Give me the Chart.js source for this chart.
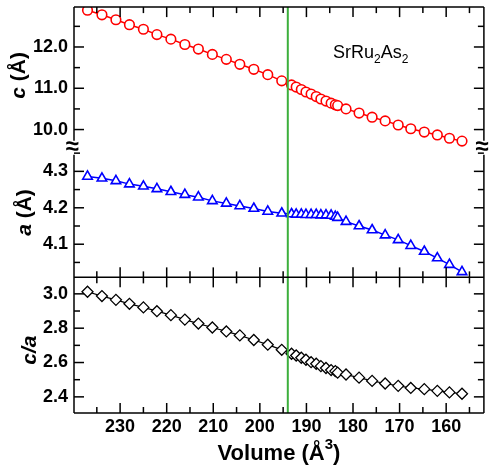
<!DOCTYPE html>
<html>
<head>
<meta charset="utf-8">
<script src="https://cdn.jsdelivr.net/npm/chart.js@4.4.0/dist/chart.umd.min.js"></script>
<style>
  html, body { margin: 0; padding: 0; background: #fff; }
  #wrap { width: 491px; height: 467px; }
</style>
</head>
<body>
<div id="wrap"><canvas id="myChart" width="491" height="467"></canvas></div>
<script>
// volume (A^3), shared by all three panels
const volumes = [
  237.0, 233.9, 230.9, 228.0, 225.0, 222.1, 219.1, 216.1, 213.2, 210.2, 207.2, 204.3, 201.3, 198.3, 195.3,
  193.2, 192.2, 191.1, 190.1, 189.0, 187.9, 186.9, 185.8, 184.7, 183.8, 183.3,
  181.5, 178.7, 175.9, 173.1, 170.3, 167.6, 164.7, 161.9, 159.3, 156.6
];
const cValues = [
  12.89, 12.78, 12.66, 12.54, 12.43, 12.30, 12.19, 12.06, 11.95, 11.82, 11.70, 11.58, 11.46, 11.33, 11.18,
  11.08, 11.03, 10.97, 10.91, 10.86, 10.80, 10.74, 10.69, 10.64, 10.60, 10.58,
  10.50, 10.40, 10.30, 10.21, 10.11, 10.02, 9.94, 9.87, 9.79, 9.72
];
const aValues = [
  4.286, 4.281, 4.274, 4.265, 4.259, 4.252, 4.244, 4.236, 4.229, 4.219, 4.212, 4.205, 4.198, 4.190, 4.185,
  4.183, 4.182, 4.182, 4.181, 4.181, 4.181, 4.180, 4.180, 4.179, 4.176, 4.173,
  4.162, 4.150, 4.139, 4.125, 4.112, 4.096, 4.080, 4.062, 4.044, 4.024
];
const caValues = [
  3.012, 2.987, 2.965, 2.942, 2.921, 2.899, 2.876, 2.850, 2.827, 2.804, 2.781, 2.758, 2.731, 2.704, 2.674,
  2.651, 2.641, 2.628, 2.616, 2.602, 2.593, 2.579, 2.568, 2.556, 2.550, 2.541,
  2.530, 2.512, 2.493, 2.478, 2.464, 2.452, 2.445, 2.435, 2.426, 2.418
];

const volumeTicks = [230, 220, 210, 200, 190, 180, 170, 160];
const volumeMinor = [235, 225, 215, 205, 195, 185, 175, 165, 155];
const cTicks = [10.0, 11.0, 12.0];
const cMinor = [10.5, 11.5, 12.5];
const aTicks = [4.1, 4.2, 4.3];
const aMinor = [4.05, 4.15, 4.25, 4.35];
const caTicks = [2.4, 2.6, 2.8, 3.0];
const caMinor = [2.5, 2.7, 2.9];
const transitionVolume = 194.0;

const FONT = '"Liberation Sans", Arial, Helvetica, sans-serif';
const tickFont = { family: FONT, size: 18, weight: 'bold' };

function points(ys) {
  return volumes.map((v, i) => ({ x: v, y: ys[i] }));
}

function noPadding(s) {
  s.paddingTop = 0;
  s.paddingBottom = 0;
  s.paddingLeft = 0;
  s.paddingRight = 0;
}

function yAxis(min, max, weight, majors) {
  return {
    type: 'linear',
    position: 'left',
    stack: 'panels',
    stackWeight: weight,
    min: min,
    max: max,
    grid: { display: false, drawTicks: false },
    border: { display: false },
    ticks: { font: tickFont, color: '#000', padding: 6, callback: v => v.toFixed(1) },
    afterBuildTicks: s => { s.ticks = majors.map(v => ({ value: v })); },
    afterFit: s => { s.width = 74; noPadding(s); }
  };
}

function line(ctx, x1, y1, x2, y2) {
  ctx.beginPath();
  ctx.moveTo(x1, y1);
  ctx.lineTo(x2, y2);
  ctx.stroke();
}

// text made of runs: [text, font, dy]
function drawRuns(ctx, runs, x, y, align) {
  let total = 0;
  runs.forEach(r => { ctx.font = r[1]; total += ctx.measureText(r[0]).width; });
  let cx = align === 'center' ? x - total / 2 : x;
  runs.forEach(r => {
    ctx.font = r[1];
    ctx.fillText(r[0], cx, y + (r[2] || 0));
    cx += ctx.measureText(r[0]).width;
  });
}

const panelFrame = {
  id: 'panelFrame',
  afterDatasetsDraw(chart) {
    const { ctx, chartArea: area, scales } = chart;
    const xs = scales.x;
    const panels = [
      [scales.yc, cTicks, cMinor],
      [scales.ya, aTicks, aMinor],
      [scales.yca, caTicks, caMinor]
    ];
    const breakY = scales.yc.bottom;
    const sepY = scales.yca.top;
    ctx.save();

    // transition marker
    const gx = xs.getPixelForValue(transitionVolume);
    ctx.strokeStyle = 'rgb(60,175,60)';
    ctx.lineWidth = 2;
    line(ctx, gx, area.top, gx, area.bottom);

    ctx.strokeStyle = '#000';
    ctx.lineWidth = 1.5;
    // frame, with the axis break between c and a
    line(ctx, area.left, area.top, area.right, area.top);
    line(ctx, area.left, area.bottom, area.right, area.bottom);
    line(ctx, area.left, sepY, area.right, sepY);
    [area.left, area.right].forEach(x => {
      line(ctx, x, area.top, x, breakY - 7);
      line(ctx, x, breakY + 7, x, area.bottom);
    });

    // x ticks
    const xTick = (v, len) => {
      const px = xs.getPixelForValue(v);
      line(ctx, px, area.top, px, area.top + len);
      line(ctx, px, area.bottom, px, area.bottom - len);
      line(ctx, px, sepY - len, px, sepY + len);
    };
    volumeTicks.forEach(v => xTick(v, 10));
    volumeMinor.forEach(v => xTick(v, 6));

    // y ticks, left and right
    panels.forEach(p => {
      const s = p[0];
      const yTick = (v, len) => {
        const py = s.getPixelForValue(v);
        line(ctx, area.left, py, area.left + len, py);
        line(ctx, area.right, py, area.right - len, py);
      };
      p[1].forEach(v => yTick(v, 10));
      p[2].forEach(v => yTick(v, 6));
    });

    ctx.fillStyle = '#000';
    ctx.textBaseline = 'middle';
    ctx.textAlign = 'left';
    // break marks
    [area.left - 2, area.right - 2].forEach(x => {
      ctx.save();
      ctx.translate(x, breakY);
      ctx.font = 'bold 24px ' + FONT;
      ctx.textAlign = 'center';
      ctx.fillText('\u2248', 0, 0);
      ctx.restore();
    });

    // y titles
    const yTitle = (runs, x, y) => {
      ctx.save();
      ctx.translate(x, y);
      ctx.rotate(-Math.PI / 2);
      ctx.textAlign = 'left';
      drawRuns(ctx, runs, 0, 0, 'center');
      ctx.restore();
    };
    const it = 'italic bold 21px ' + FONT;
    const bd = 'bold 21px ' + FONT;
    yTitle([['c', it], [' (\u00c5)', bd]], 19, (scales.yc.top + breakY) / 2 - 2);
    yTitle([['a', it], [' (\u00c5)', bd]], 25, (breakY + sepY) / 2);
    yTitle([['c/a', it]], 30, (sepY + area.bottom) / 2 + 5);

    // compound label
    ctx.textBaseline = 'alphabetic';
    const rg = '18px ' + FONT;
    const sub = '12px ' + FONT;
    drawRuns(ctx, [['SrRu', rg], ['2', sub, 5], ['As', rg], ['2', sub, 5]], 333, 58, 'left');

    // x title
    const xb = 'bold 22px ' + FONT;
    drawRuns(ctx, [['Volume (\u00c5', xb], ['3', 'bold 15px ' + FONT, -11], [')', xb]],
      (area.left + area.right) / 2, 460, 'center');
    ctx.restore();
  }
};

const config = {
  type: 'scatter',
  data: {
    datasets: [
      {
        label: 'c',
        data: points(cValues),
        yAxisID: 'yc',
        showLine: true,
        borderColor: 'rgb(255,0,0)',
        borderWidth: 1.5,
        pointStyle: 'circle',
        pointRadius: 4.8,
        pointBorderWidth: 1.6,
        pointBorderColor: 'rgb(255,0,0)',
        pointBackgroundColor: '#fff'
      },
      {
        label: 'a',
        data: points(aValues),
        yAxisID: 'ya',
        showLine: true,
        borderColor: 'rgb(0,0,255)',
        borderWidth: 1.5,
        pointStyle: 'triangle',
        pointRadius: 5.5,
        pointBorderWidth: 1.6,
        pointBorderColor: 'rgb(0,0,255)',
        pointBackgroundColor: '#fff'
      },
      {
        label: 'c/a',
        data: points(caValues),
        yAxisID: 'yca',
        showLine: true,
        borderColor: '#000',
        borderWidth: 1.2,
        pointStyle: 'rectRot',
        pointRadius: 5.5,
        pointBorderWidth: 1.3,
        pointBorderColor: '#000',
        pointBackgroundColor: '#fff'
      }
    ]
  },
  options: {
    responsive: false,
    animation: false,
    layout: { padding: { top: 3, right: 5, left: 0, bottom: 0 } },
    plugins: { legend: { display: false }, tooltip: { enabled: false } },
    scales: {
      x: {
        type: 'linear',
        reverse: true,
        min: 151.9,
        max: 239.9,
        grid: { display: false, drawTicks: false },
        border: { display: false },
        ticks: { font: tickFont, color: '#000', padding: 3, autoSkip: false, maxRotation: 0, callback: v => String(v) },
        afterBuildTicks: s => { s.ticks = volumeTicks.map(v => ({ value: v })); },
        afterFit: s => { s.height = 54; noPadding(s); }
      },
      // left stack is laid out from the last defined axis down
      yca: yAxis(2.306, 3.096, 137, caTicks),
      ya: yAxis(4.009, 4.365, 131, aTicks),
      yc: yAxis(9.561, 12.966, 142, cTicks)
    }
  },
  plugins: [panelFrame]
};

const myChart = new Chart(document.getElementById('myChart'), config);
</script>
</body>
</html>
